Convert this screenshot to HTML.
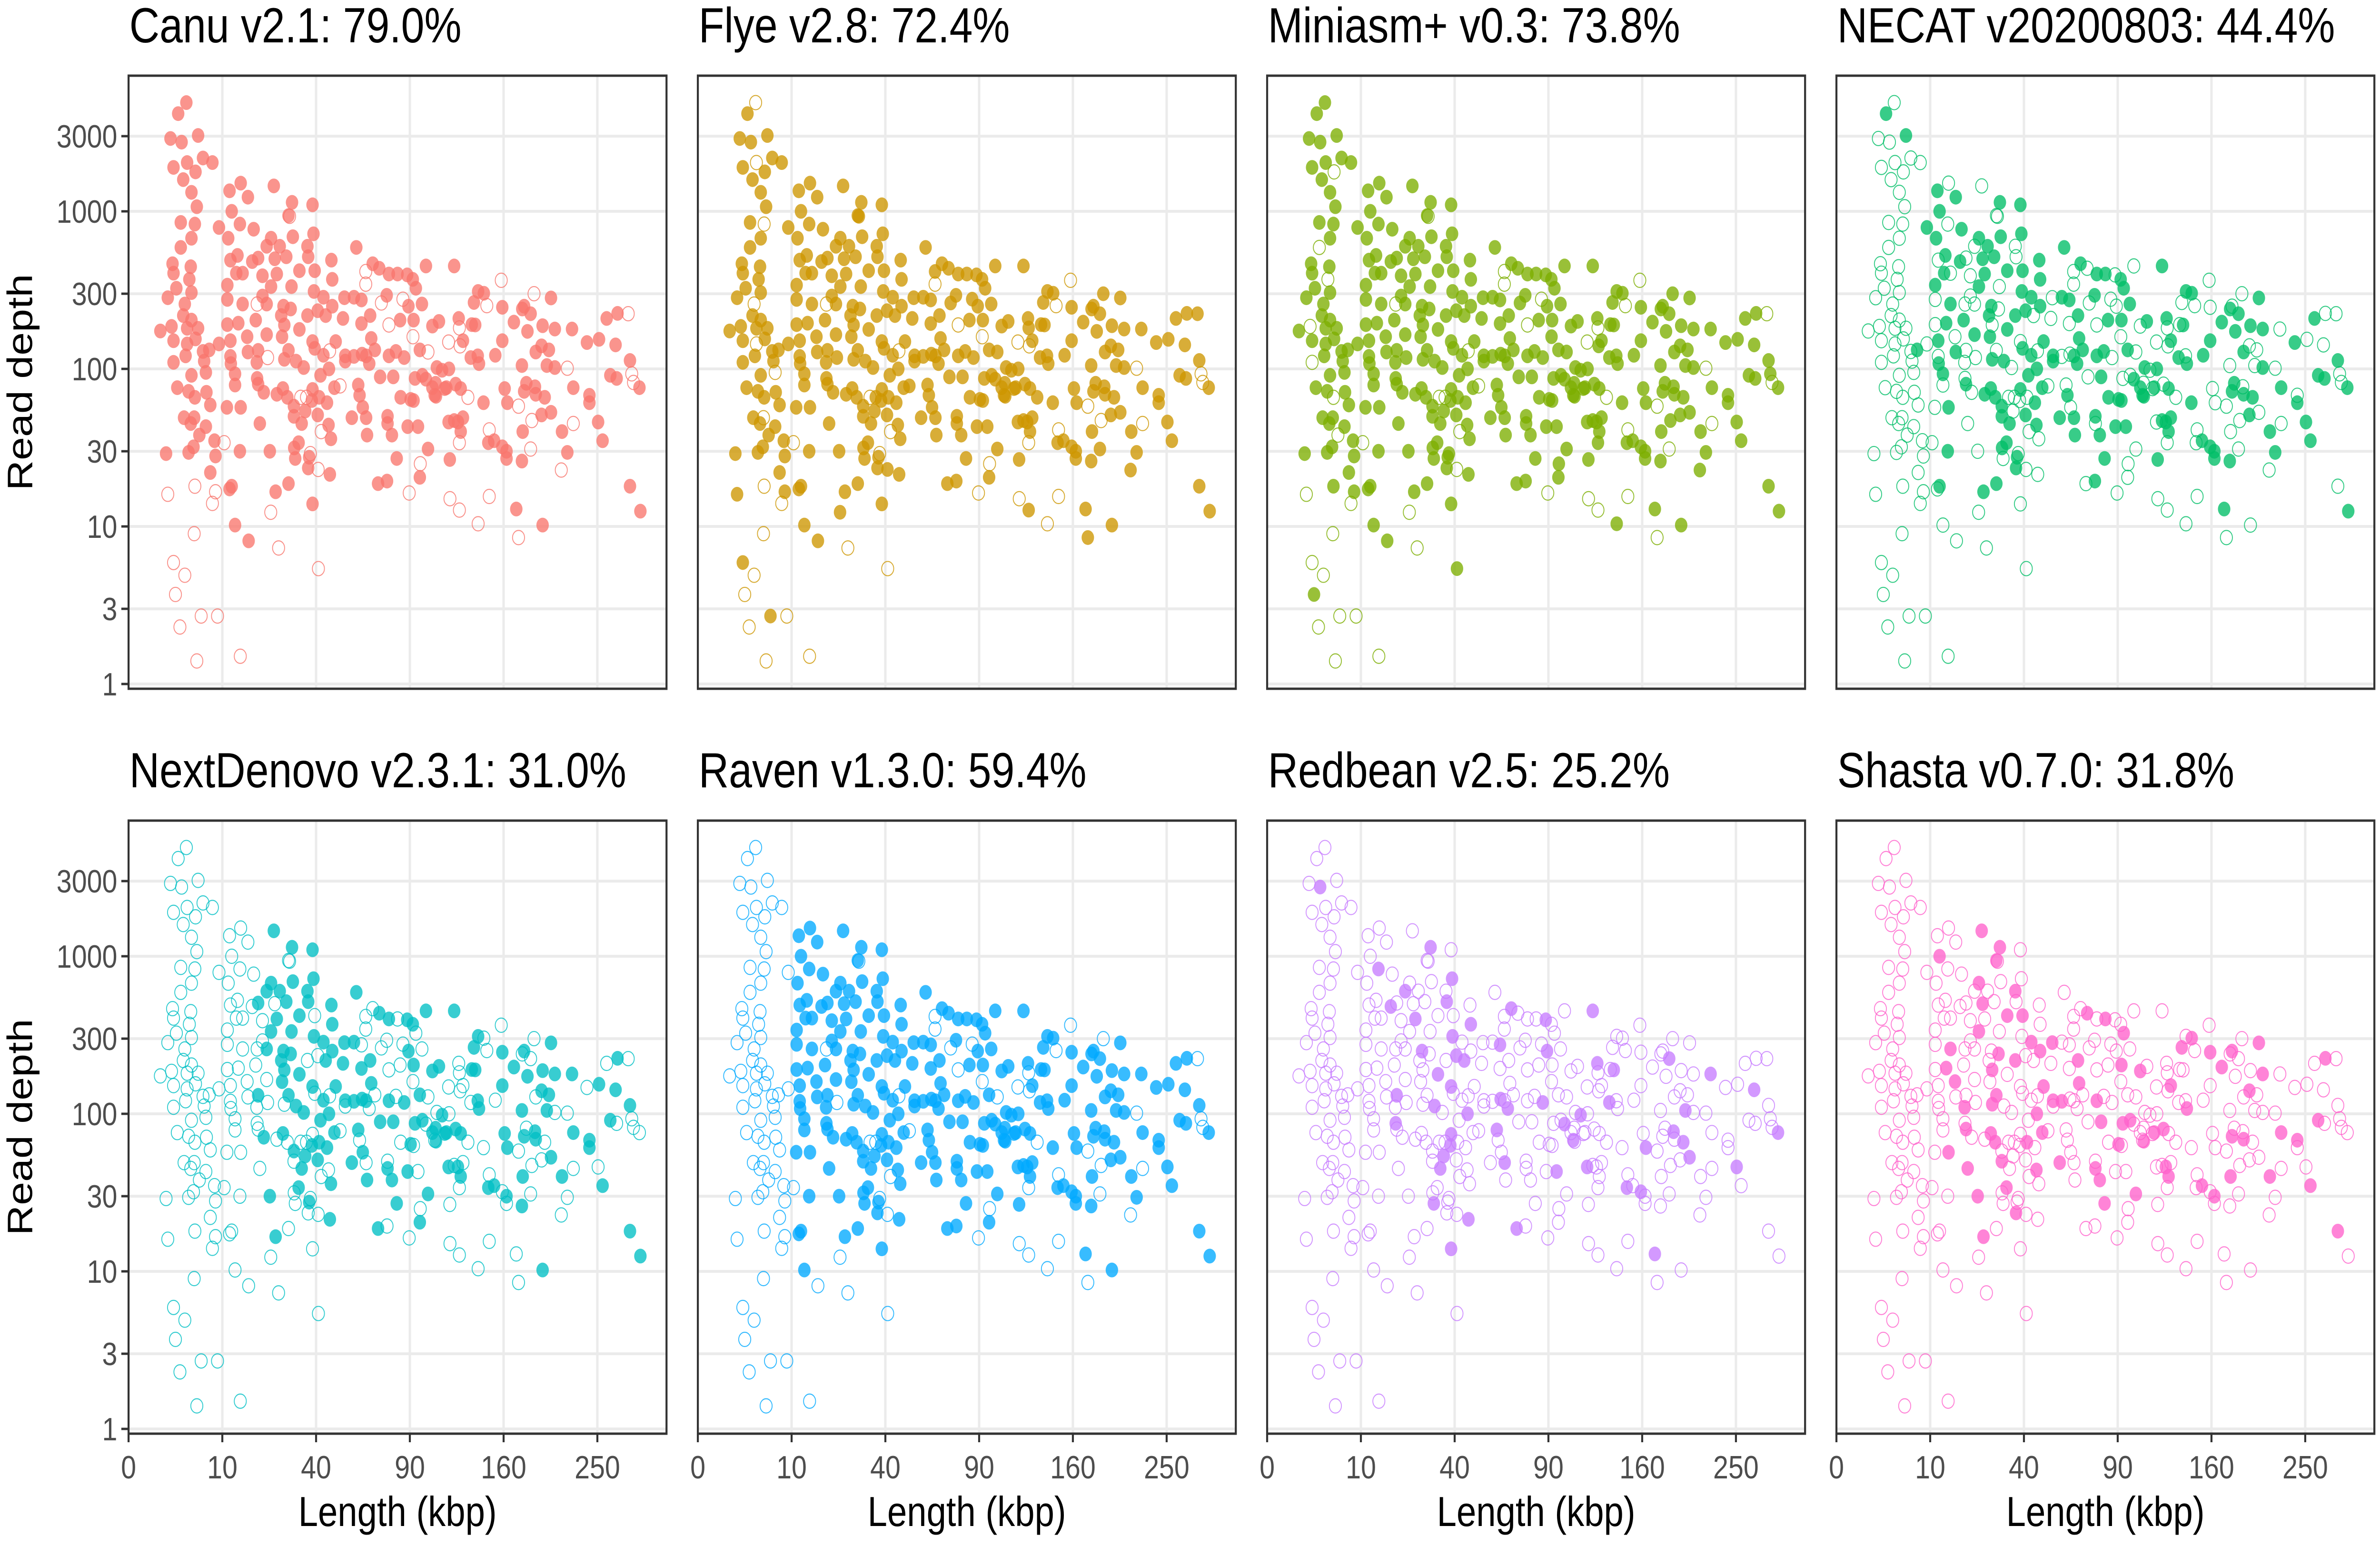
<!DOCTYPE html>
<html><head><meta charset="utf-8">
<style>
html,body{margin:0;padding:0;background:#fff;width:100%;height:100%;overflow:hidden;}
svg{display:block;width:100vw;height:100vh;font-family:"Liberation Sans",Arial,sans-serif;}
</style></head>
<body>
<svg id="chart" xmlns="http://www.w3.org/2000/svg" viewBox="0 0 5924 3248" preserveAspectRatio="none">
<rect x="0" y="0" width="5924" height="3248" fill="#fff"/>
</svg>
<script>
const assemblers = ["Canu v2.1","Flye v2.8","Miniasm+ v0.3","NECAT v20200803","NextDenovo v2.3.1","Raven v1.3.0","Redbean v2.5","Shasta v0.7.0"];
const percents = ["79.0%","72.4%","73.8%","44.4%","31.0%","59.4%","25.2%","31.8%"];
const colors = ["#F8766D","#CD9600","#7CAE00","#00BE67","#00BFC4","#00A9FF","#C77CFF","#FF61CC"];
const xTicks = [0,10,40,90,160,250];
const yTicks = [1,3,10,30,100,300,1000,3000];
// contigs: [length kbp, read depth, membership flags per assembler (Canu Flye Miniasm NECAT NextDenovo Raven Redbean Shasta)]
const contigs = [
[3.8,4900,"10100000"],[2.8,4170,"11110000"],[2.0,2900,"11100000"],[3.2,2750,"11100010"],[5.5,3030,"11110000"],
[2.3,1900,"11100000"],[3.9,2040,"10100000"],[6.3,2180,"11100000"],[8.0,2040,"11100000"],[3.4,1590,"11100000"],
[5.1,1780,"11000000"],[4.5,1320,"11100000"],[5.3,1070,"11100000"],[3.1,850,"11100000"],[5.0,830,"10100000"],
[4.5,675,"11100000"],[3.1,590,"11000000"],[2.2,465,"11100000"],[4.4,445,"11100000"],[2.3,405,"11100000"],
[4.2,370,"11000000"],[2.6,325,"11100000"],[4.5,305,"11100000"],[1.75,283,"11100000"],[3.6,258,"10100000"],
[3.4,218,"11100000"],[4.5,204,"11100000"],[1.15,174,"11100000"],[2.1,186,"11000000"],[3.9,181,"11100000"],
[5.5,181,"11100000"],[2.3,151,"11100000"],[3.9,144,"10100000"],[5.1,155,"11100000"],[6.3,129,"11100000"],
[7.4,132,"11110000"],[3.7,121,"11100000"],[2.3,110,"11000000"],[6.5,112,"11100000"],[4.5,91,"11100000"],
[6.8,95,"10100000"],[2.7,76,"11100000"],[4.1,72,"11100000"],[5.0,66,"11000000"],[6.9,71,"11100000"],
[7.6,59,"11100000"],[3.5,49,"11100000"],[4.9,49,"10100000"],[4.4,45,"11100000"],[6.8,43,"11100000"],
[5.7,38,"11000000"],[4.8,32,"11100000"],[1.6,29,"11100000"],[4.1,29.5,"11100000"],[8.4,35,"11100000"],
[8.6,28,"11100000"],[7.6,22,"11100000"],
[1.75,16,"01000000"],[5.0,18,"00100000"],[8.0,14,"00000000"],[8.6,16.6,"01100000"],[4.9,9,"00000000"],
[2.3,5.9,"01000000"],[3.6,4.9,"00000000"],[2.5,3.7,"00100000"],[3.0,2.3,"00000000"],[6.0,2.7,"01000000"],
[9.0,2.7,"00000000"],[5.3,1.4,"00000000"],[14.2,1.5,"00000000"],[23,12.3,"01000000"],[25.6,7.3,"00000000"],
[41,5.4,"00100000"],[10.4,34,"00000000"],[40.9,23,"01000000"],[42.2,40,"00000000"],[37.6,29,"00100000"],
[29.5,930,"01000000"],[18.8,258,"00000000"],[22,118,"01100000"],[33.7,66,"00000000"],[50.9,78,"01000000"],
[158,365,"00000000"],[187,300,"01100000"],[146,252,"00000000"],[124.5,182,"01000000"],[125,140,"00100000"],
[116.5,148,"00000000"],[102,128,"01100000"],[219,101,"00000000"],[284,224,"01000000"],[288,93,"00100000"],
[290,82,"00000000"],[131,66,"01000000"],[148,41,"00000000"],[124.5,34,"00100000"],[183.9,31,"01000000"],
[225,45,"00000000"],[213,22.8,"01100000"],[173,58,"00000000"],[185,47,"00100000"],[117.5,15,"00000000"],
[124.5,12.7,"01000000"],[139,10.4,"00100000"],[148,15.5,"00000000"],[173,8.5,"01000000"],[89.6,16.3,"00000000"],
[96.8,25,"00100000"],[64,415,"01000000"],[64,345,"00000000"],[72.7,262,"01100000"],[77.1,190,"00000000"],
[85.6,277,"01000000"],[92,160,"00100000"],[46,130,"00000000"],[36,66,"01000000"],
[11.6,1350,"11110100"],[14.3,1510,"11100100"],[16.2,1230,"11110100"],[24,1450,"11101101"],[12.1,1000,"11110101"],
[11.3,675,"11110100"],[14.1,830,"11100110"],[9.3,790,"11110000"],[17.8,770,"11110100"],[30.4,1140,"11111111"],
[38.5,1100,"11111100"],[29.1,940,"11100101"],[38.9,720,"11111110"],[23.1,675,"11111101"],[21.7,600,"11101110"],
[26,600,"11111100"],[30.7,690,"11111100"],[36.4,600,"11101101"],[13.5,525,"11110100"],[11.8,490,"11100100"],
[17.4,480,"11110110"],[19.1,505,"11101100"],[24.3,500,"11110101"],[28.3,515,"11111100"],[36.7,515,"11101110"],
[46.8,490,"11111100"],[39.4,420,"11110101"],[14.8,405,"11100100"],[25,400,"11111110"],[33.2,420,"11111101"],
[13.2,405,"11110100"],[20.4,390,"11100100"],[47.2,370,"11111110"],[11.1,340,"11110100"],[30.2,333,"11101100"],
[23.1,333,"11111101"],[39.1,310,"11111110"],[20.4,290,"11100100"],[43.2,285,"11111101"],[11.1,276,"11100100"],
[14.8,258,"11110101"],[21.7,258,"11101100"],[27.3,250,"11111110"],[47.2,250,"11111101"],[40.7,234,"11110110"],
[29.9,240,"11101101"],[26.5,218,"11111100"],[36.4,218,"11110101"],[44.2,218,"11101110"],[18.4,204,"11110100"],
[11.1,191,"11100100"],[13.7,195,"11110101"],[27.6,190,"11101101"],[33.2,178,"11111110"],[21.7,165,"11110100"],
[16,160,"11100101"],[26.8,160,"11111100"],[9.3,144,"11100000"],[11.8,151,"11110100"],[38.5,149,"11101110"],
[48.8,149,"11111101"],[39.4,135,"11110100"],[29.1,131,"11101101"],[16.2,128,"11110100"],[19.1,131,"11101110"],
[43.2,122,"11111100"],[11.8,120,"11100100"],[27.6,115,"11110101"],[31.9,112,"11111110"],[11.9,108,"11110100"],
[18.7,110,"11100101"],[34.9,102,"11101100"],[45.7,100,"11111111"],[12.9,93,"11110100"],[18.8,87,"11100110"],
[41.9,91,"11111100"],[19.1,80,"11110101"],[12.9,79,"11100100"],[48.2,76,"11111101"],[38.5,74,"11110110"],
[20.8,71,"11101100"],[27.1,75,"11111101"],[25,69,"11110100"],[38.2,63,"11101110"],[28.7,66,"11110101"],
[44.8,61,"11111100"],[41.3,66,"11101101"],[11,57,"11100100"],[14.3,57,"11110101"],[31.1,58,"11111100"],
[35.5,54,"11101110"],[31.1,50,"11110101"],[40.7,51,"11111100"],[19.6,45,"11100101"],[34.1,45,"11111110"],
[45.5,44,"11110101"],[46.6,36,"11101100"],[32.9,34,"11111101"],[31.2,31.5,"11110100"],[22.7,30,"11101101"],
[14.1,30,"11110100"],[31.6,27,"11100110"],[37.1,27.5,"11111100"],[36.7,23.5,"11110101"],[46.1,21.4,"11101110"],
[29.1,18.7,"11110100"],[24.6,16.6,"11111101"],[11.6,17.3,"11100100"],[12.1,18,"11110100"],[38.5,13.9,"11100110"],
[12.9,10.2,"11100100"],[16.4,8.1,"11100000"],
[59,590,"11111100"],[67.8,465,"11110110"],[71.5,435,"11101101"],[77.1,400,"11111100"],[82.3,400,"11110101"],
[88.3,395,"11101110"],[91.9,370,"11111100"],[93.9,325,"11110101"],[100.6,450,"11101100"],[120.6,450,"11111110"],
[75.8,293,"11110100"],[53,283,"11101101"],[57.8,285,"11111100"],[61.7,274,"11110110"],[52.3,209,"11101100"],
[66.4,218,"11111101"],[83.9,204,"11110100"],[89.1,250,"11101110"],[92.4,204,"11111101"],[97.9,258,"11110100"],
[105,187,"11101101"],[109.6,200,"11111100"],[124,209,"11110110"],[135.7,264,"11101101"],[139,310,"11111100"],
[143.6,302,"11110101"],[134,191,"11101100"],[136.7,190,"11111110"],[127.2,151,"11110101"],[61.7,194,"11101100"],
[67,156,"11111101"],[69,132,"11110100"],[62,124,"11101110"],[53.4,121,"11111101"],[53.4,112,"11110100"],
[57.8,120,"11101101"],[64.2,121,"11111100"],[65.9,108,"11110110"],[72,89,"11101100"],[77.1,121,"11111101"],
[81.3,129,"11110100"],[86.4,118,"11101110"],[90.5,64,"11111101"],[92.4,63,"11110100"],[93.3,87,"11101101"],
[96.5,132,"11111100"],[100.6,86,"11110110"],[107.2,81,"11101100"],[107.5,67,"11111101"],[108.1,102,"11110100"],
[111.8,98,"11101110"],[114.9,76,"11111101"],[116.8,100,"11110100"],[121.7,80,"11101101"],[125.5,75,"11111100"],
[133.2,118,"11110110"],[138.7,121,"11101100"],[139.7,108,"11111101"],[143.3,61,"11110100"],[147.2,34,"11101110"],
[152,35,"11111101"],[153,122,"11110100"],[158.9,246,"11101101"],[158.9,151,"11111100"],[158.9,32,"11110110"],
[160.9,75,"11101100"],[162.5,30,"11111101"],[162.5,27,"11110100"],[163.2,61,"11101110"],[168.9,198,"11111101"],
[176.3,240,"11110100"],[178,250,"11101101"],[181,173,"11111100"],[183.9,224,"11110110"],[176,105,"11101100"],
[178,72,"11111101"],[180,81,"11110100"],[187.9,77,"11101110"],[188.6,69,"11111101"],[188.6,128,"11110100"],
[194,140,"11101101"],[195,188,"11111100"],[197,66,"11110110"],[201,132,"11101100"],[203,282,"11111101"],
[194,51,"11110100"],[203,53,"11101110"],[206.7,179,"11111101"],[206.7,102,"11110100"],[176.7,40,"11101101"],
[176,26,"11111100"],[171,12.9,"11110110"],[195,10.2,"11101100"],[213.7,40,"11111101"],[219,29.5,"11110100"],
[223.7,179,"11101110"],[225,76,"11111101"],[239,147,"11110100"],[241.6,68,"11101101"],[241.6,61,"11111100"],
[250.8,46,"11110110"],[251.8,154,"11101100"],[255.6,35,"11111101"],[260,209,"11110100"],[269.8,142,"11101110"],
[264,91,"11111101"],[271,87,"11110100"],[272,225,"11101101"],[286,113,"11111100"],[296.9,76,"11110110"],
[286,18,"11101101"],[298,12.5,"11111100"],[120.6,47,"11110100"],[116.5,46,"11101110"],[125.5,40,"11111101"],
[117.4,26.6,"11110100"],[102,31,"11101101"],[88.6,43,"11111100"],[95.3,43,"11110110"],[96.5,20.5,"11101100"],
[81.8,27,"11111101"],[76,19.4,"11110100"],[70.8,18.7,"11101110"],[78.9,38,"11111101"],[76.3,50,"11110100"],
[76.3,45,"11101101"],[64.7,38,"11111100"],[64.2,49,"11110110"],[62.4,57,"11101100"],[56.7,49,"11111101"],
[60.7,68,"11110100"],[60,79,"11101110"],[79.7,89,"11111101"],[84.2,66,"11110100"],[98.2,91,"11101101"],
[105,76,"11111100"],[106.6,68,"11110110"],[113.7,75,"11101100"],[123.4,46,"11111101"],[127.2,49,"11110100"],
[199,105,"11101110"]
];

const NS="http://www.w3.org/2000/svg";
const svg=document.getElementById('chart');
const PW=1339, PH=1288, X0=320, Y0=159, DX=1417, DY=1565;
const XS=73.8, YS=331;
function el(tag,attrs,parent){const e=document.createElementNS(NS,tag);for(const k in attrs)e.setAttribute(k,attrs[k]);(parent||svg).appendChild(e);return e;}
function xScale(left,L){return left+XS*Math.sqrt(L);}
function yScale(top,D){return top+1278-YS*Math.log10(D);}

assemblers.forEach((name,i)=>{
  const c=i%4, r=Math.floor(i/4);
  const left=X0+DX*c, top=Y0+DY*r;
  const g=el('g',{});
  
  
  const title=el('text',{x:left+2,y:top-70,'font-size':104,fill:'#000'},g);
  title.textContent=name+': '+percents[i];
  
  
  const clipId='clip'+i;
  const cp=el('clipPath',{id:clipId},g);
  el('rect',{x:left,y:top,width:PW,height:PH},cp);
  const grid=el('g',{stroke:'#ebebeb','stroke-width':6},g);
  
  
  xTicks.forEach(t=>{const x=xScale(left,t);if(t>0)el('line',{x1:x,x2:x,y1:top,y2:top+PH},grid);});
  yTicks.forEach(t=>{const y=yScale(top,t);el('line',{x1:left,x2:left+PW,y1:y,y2:y},grid);});
  const pts=el('g',{'clip-path':'url(#'+clipId+')'},g);
  
  
  contigs.forEach(p=>{ if(p[2][i]==='0'){
    const ci=el('circle',{cx:xScale(left,p[0]),cy:yScale(top,p[1]),r:15,fill:'none',stroke:colors[i],'stroke-width':2.2,'stroke-opacity':0.8},pts);
    
    
  }});
  contigs.forEach(p=>{ if(p[2][i]==='1'){
    const ci=el('circle',{cx:xScale(left,p[0]),cy:yScale(top,p[1]),r:15.5,fill:colors[i],'fill-opacity':0.78},pts);
    
    
  }});
  const border=el('rect',{x:left,y:top,width:PW,height:PH,fill:'none',stroke:'#333','stroke-width':5},g);
  
  
  if(c===0){
    yTicks.forEach(t=>{const y=yScale(top,t);
      el('line',{x1:left-18,x2:left,y1:y,y2:y,stroke:'#333','stroke-width':5},g);
      const tl=el('text',{x:left-28,y:y+24,'font-size':68,fill:'#4d4d4d','text-anchor':'end'},g);
      tl.textContent=t;
      
      
    });
    const yt=el('text',{x:0,y:0,'font-size':88,fill:'#000','text-anchor':'middle',transform:'translate(80,'+(top+PH/2)+') rotate(-90)'},g);
    yt.textContent='Read depth';
    
    
  }
  if(r===1){
    xTicks.forEach(t=>{const x=xScale(left,t);
      el('line',{x1:x,x2:x,y1:top+PH,y2:top+PH+18,stroke:'#333','stroke-width':5},g);
      const tl=el('text',{x:x,y:top+PH+94,'font-size':68,fill:'#4d4d4d','text-anchor':'middle'},g);
      tl.textContent=t;
      
      
    });
    const xt=el('text',{x:left+PW/2,y:3206,'font-size':88,fill:'#000','text-anchor':'middle'},g);
    xt.textContent='Length (kbp)';
    
    
  }
});
</script>
</body></html>
